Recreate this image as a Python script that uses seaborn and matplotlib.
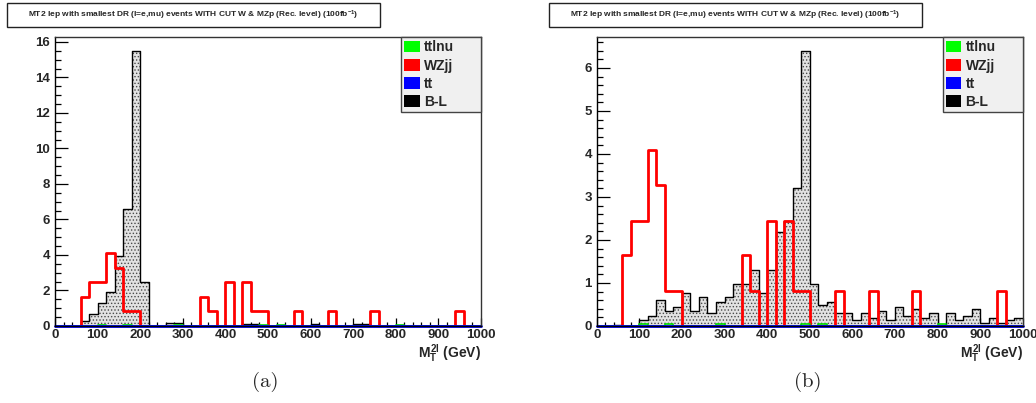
import numpy as np
import pandas as pd
import matplotlib
matplotlib.use('Agg')
import matplotlib.pyplot as plt
import seaborn as sns
from matplotlib.patches import Rectangle, Patch
from matplotlib.ticker import MultipleLocator

# ---------------- data (20 GeV bins, 0-1000 GeV) ----------------
bin_edges = list(range(0, 1001, 20))
bin_centers = [e + 10 for e in bin_edges[:-1]]

ttlnu = [0, 0, 0, 0, 0, 0.04, 0, 0, 0.04, 0,
         0, 0, 0, 0, 0.04, 0, 0, 0, 0, 0,
         0, 0, 0, 0, 0.04, 0, 0.04, 0, 0, 0,
         0, 0, 0, 0, 0, 0, 0, 0, 0, 0,
         0.04, 0, 0, 0, 0, 0, 0, 0, 0, 0]

wzjj = [0, 0, 0, 1.64, 2.45, 2.45, 4.10, 3.28, 0.82, 0.82,
        0, 0, 0, 0, 0, 0, 0, 1.64, 0.82, 0,
        2.45, 0, 2.45, 0.82, 0.82, 0, 0, 0, 0.82, 0,
        0, 0, 0.82, 0, 0, 0, 0, 0.82, 0, 0,
        0, 0, 0, 0, 0, 0, 0, 0.82, 0, 0]

tt = [0] * 50

bl_a = [0, 0, 0, 0.26, 0.66, 1.30, 1.92, 3.92, 6.60, 15.5,
        2.45, 0, 0, 0.17, 0.17, 0, 0, 0, 0, 0,
        0, 0, 0.12, 0.12, 0, 0, 0, 0, 0, 0,
        0.12, 0, 0, 0, 0, 0.12, 0.12, 0, 0, 0,
        0, 0, 0, 0, 0, 0, 0, 0, 0, 0]

bl_b = [0, 0, 0.03, 0, 0, 0.13, 0.24, 0.61, 0.34, 0.45,
        0.77, 0.34, 0.67, 0.30, 0.56, 0.67, 0.97, 0.97, 1.30, 0.76,
        1.30, 2.19, 2.44, 3.21, 6.39, 0.97, 0.49, 0.56, 0.30, 0.30,
        0.13, 0.30, 0.19, 0.34, 0.13, 0.45, 0.24, 0.40, 0.19, 0.30,
        0.03, 0.30, 0.13, 0.24, 0.40, 0.08, 0.19, 0.08, 0.13, 0.19]

legend_labels = ['ttlnu', 'WZjj', 'tt', 'B-L']
legend_colors = ['#00ff00', '#ff0000', '#0000ff', '#000000']
title = r'MT2 lep with smallest DR (l=e,mu) events WITH CUT W & MZp (Rec. level) (100fb$^{-1}$)'
xlabel = r'$M_{T}^{2l}$ (GeV)'
captions = ['(a)', '(b)']

# ---------------- style ----------------
sns.set_theme(style='white')
plt.rcParams['font.family'] = ['Liberation Sans', 'DejaVu Sans']
plt.rcParams['font.weight'] = 'bold'
plt.rcParams['mathtext.fontset'] = 'custom'
plt.rcParams['mathtext.rm'] = 'Liberation Sans:bold'
plt.rcParams['mathtext.it'] = 'Liberation Sans:bold'
plt.rcParams['mathtext.bf'] = 'Liberation Sans:bold'
plt.rcParams['hatch.linewidth'] = 0.6

W, H = 1036, 403
fig = plt.figure(figsize=(W / 100, H / 100), dpi=100)

panels = [
    dict(x0=55, bl=bl_a, ymax=15.5 * 1.05, major=2, minor=0.5, tx0=7, cap_x=265),
    dict(x0=596.7, bl=bl_b, ymax=6.4 * 1.05, major=1, minor=0.2, tx0=549, cap_x=808),
]
ax_w, ax_top, ax_bot = 426, 37, 326

for i, p in enumerate(panels):
    ax = fig.add_axes([p['x0'] / W, 1 - ax_bot / H, ax_w / W, (ax_bot - ax_top) / H])
    df = pd.DataFrame({'x': bin_centers, 'bl': p['bl'], 'wzjj': wzjj,
                       'ttlnu': ttlnu, 'tt': tt})
    # B-L : dotted grey fill + black outline
    sns.histplot(data=df, x='x', weights='bl', bins=bin_edges, element='step',
                 fill=True, linewidth=0, facecolor='#e2e2e2', edgecolor='#4a4a4a',
                 hatch='.....', alpha=1, ax=ax)
    sns.histplot(data=df, x='x', weights='bl', bins=bin_edges, element='step',
                 fill=False, color='black', linewidth=1.0, ax=ax)
    # WZjj
    sns.histplot(data=df, x='x', weights='wzjj', bins=bin_edges, element='step',
                 fill=False, color='#ff0000', linewidth=2.0, ax=ax)
    # ttlnu
    sns.histplot(data=df, x='x', weights='ttlnu', bins=bin_edges, element='step',
                 fill=False, color='#00dd00', linewidth=1.2, ax=ax)
    # tt
    sns.histplot(data=df, x='x', weights='tt', bins=bin_edges, element='step',
                 fill=False, color='#0000ff', linewidth=2.0, clip_on=False, ax=ax)

    ax.set_xlim(0, 1000)
    ax.set_ylim(0, p['ymax'])
    ax.set_ylabel('')
    ax.xaxis.set_major_locator(MultipleLocator(100))
    ax.xaxis.set_minor_locator(MultipleLocator(20))
    ax.yaxis.set_major_locator(MultipleLocator(p['major']))
    ax.yaxis.set_minor_locator(MultipleLocator(p['minor']))
    ax.tick_params(which='both', direction='in', top=False, right=False,
                   bottom=True, left=True, color='black', width=0.9,
                   labelsize=9.5)
    ax.tick_params(axis='y', which='major', length=9, pad=3.5)
    ax.tick_params(axis='y', which='minor', length=4.5)
    ax.tick_params(axis='x', which='major', length=6, pad=2.5)
    ax.tick_params(axis='x', which='minor', length=3)
    for s in ax.spines.values():
        s.set_color('#333333')
        s.set_linewidth(1.0)
    ax.spines['left'].set_color('black')
    ax.spines['bottom'].set_color('black')

    ax.set_xlabel(xlabel, fontsize=10, fontweight='bold')
    ax.xaxis.set_label_coords(1.0, -0.093)
    ax.xaxis.label.set_ha('right')
    ax.xaxis.label.set_va('center')

    handles = [Patch(facecolor=c, edgecolor='none') for c in legend_colors]
    lw_frac = 80 / ax_w
    leg = ax.legend(handles, legend_labels, loc='upper left',
                    bbox_to_anchor=(1 - lw_frac, 1.0, lw_frac, 0), mode='expand',
                    borderaxespad=0, frameon=True, fancybox=False, framealpha=1,
                    facecolor='#f0f0f0', edgecolor='#444444',
                    handlelength=1.1, handleheight=0.9, handletextpad=0.3,
                    labelspacing=0.3, borderpad=0.25,
                    prop={'weight': 'bold', 'size': 10})
    leg.get_frame().set_linewidth(1.0)

    # title box
    fig.add_artist(Rectangle((p['tx0'] / W, 1 - 27 / H), 373 / W, 24 / H,
                             transform=fig.transFigure, facecolor='white',
                             edgecolor='#222222', linewidth=1.0))
    fig.text((p['tx0'] + 186.5) / W, 1 - 15 / H, title, ha='center', va='center',
             fontsize=6.0, fontweight='bold')
    # caption
    fig.text(p['cap_x'] / W, 1 - 382 / H, captions[i], family='cmr10',
             fontsize=15, fontweight='normal', ha='center', va='center')

fig.savefig('out.png', dpi=100)
